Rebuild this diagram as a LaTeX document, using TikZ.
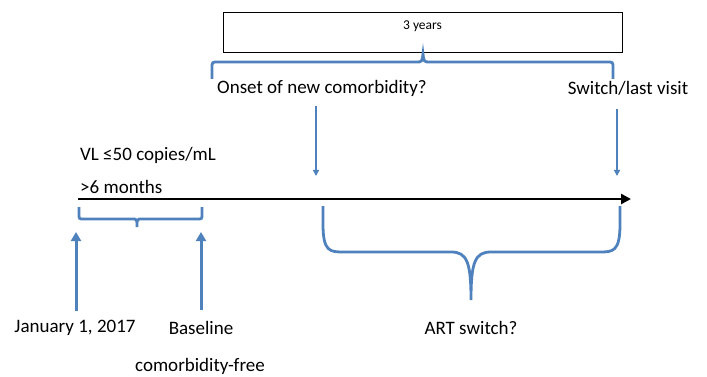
\documentclass[tikz,border=0pt]{standalone}
\usepackage{fontspec}
\setmainfont{Carlito}
\usetikzlibrary{arrows.meta}
\definecolor{myblue}{RGB}{79,129,189}

\begin{document}
\begin{tikzpicture}[x=1pt, y=-1pt,
    lbl/.style={font=\fontsize{19}{19}\selectfont, inner sep=0pt, anchor=center},
    brace/.style={draw=myblue, line width=2.8pt},
    thinarrow/.style={draw=myblue, line width=1.6pt, -{Triangle[length=6pt, width=6pt]}},
    thickarrow/.style={draw=myblue, line width=3pt, -{Triangle[length=9pt, width=10pt]}},
    axis/.style={draw=black, line width=2.5pt, -{Triangle[length=10pt, width=10pt]}}]
    \useasboundingbox (0,0) rectangle (707,377);

    % period box
    \node[draw, line width=0.8pt, minimum width=399pt, minimum height=40pt,
        font=\fontsize{13.5}{13.5}\selectfont, text height=9pt, text depth=13pt]
        (period) at (422.5,32) {3 years};

    % labels
    \node[lbl] (onset) at (322,88) {Onset of new comorbidity?};
    \node[lbl] (lastvisit) at (628,88) {Switch/last visit};
    \node[lbl, anchor=west] (vl) at (80,155) {VL \char"2264 50 copies/mL};
    \node[lbl, anchor=west] (months) at (80,187) {>6 months};
    \node[lbl] (jan) at (75,328) {January 1, 2017};
    \node[lbl] (baseline) at (201,328) {Baseline};
    \node[lbl] (free) at (200,366) {comorbidity-free};
    \node[lbl] (artswitch) at (471,328) {ART switch?};

    % time axis
    \coordinate (t0) at (78,199);
    \coordinate (tend) at (631,199);
    \draw[axis] (t0) -- (tend);

    % arrows
    \coordinate (onsetpt) at (316,176);
    \coordinate (switchpt) at (617,176);
    \coordinate (startpt) at (76,232);
    \coordinate (basept) at (201,232);
    \draw[thinarrow] (onsetpt |- onset.south) ++(0,10) -- (onsetpt);
    \draw[thinarrow] (switchpt |- lastvisit.south) ++(0,14) -- (switchpt);
    \draw[thickarrow] (startpt |- jan.north) ++(0,-9) -- (startpt);
    \draw[thickarrow] (basept |- baseline.north) ++(0,-11) -- (basept);

    % braces
    \draw[brace] (212,79) -- (212,68) .. controls (212,62) .. (218,62)
        -- (416,62) .. controls (422,62) .. (423,54)
        .. controls (424,62) .. (430,62) -- (607,62)
        .. controls (613,62) .. (613,68) -- (613,79);
    \draw[brace] (79,207) -- (79,214) .. controls (79,219) .. (84,219)
        -- (132,219) .. controls (137,219) .. (137,227)
        .. controls (137,219) .. (142,219) -- (197,219)
        .. controls (202,219) .. (202,214) -- (202,207);
    \draw[brace] (323,206) -- (323,224) .. controls (323,252) and (330,252) .. (344,252)
        -- (451,252) .. controls (467,252) and (471,262) .. (471,300)
        .. controls (471,262) and (475,252) .. (491,252)
        -- (599,252) .. controls (613,252) and (620,252) .. (620,224) -- (620,206);
\end{tikzpicture}
\end{document}
